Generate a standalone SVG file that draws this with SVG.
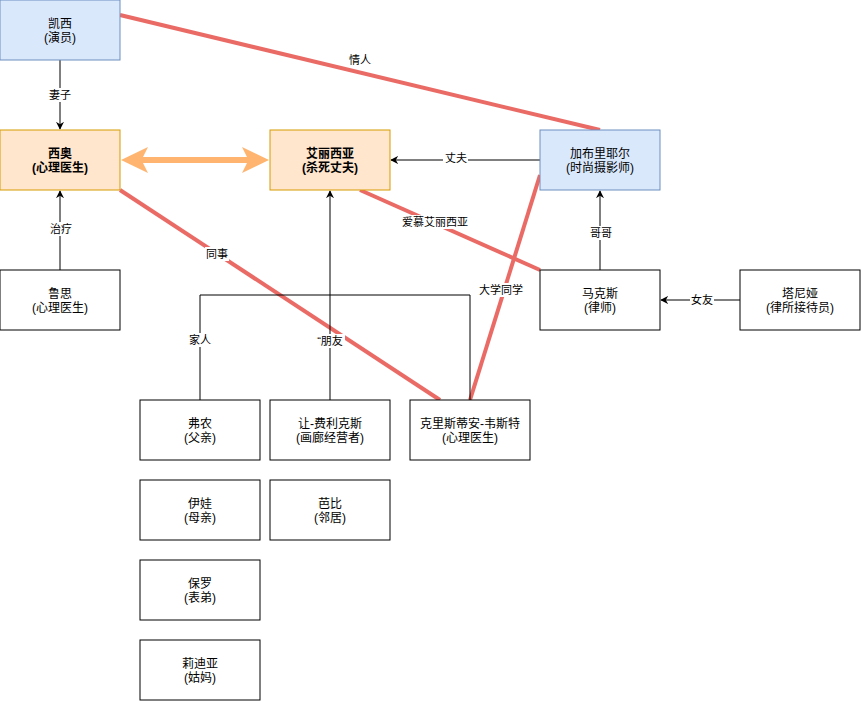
<svg xmlns="http://www.w3.org/2000/svg" width="861" height="701" viewBox="0 0 861 701">
<style>
.n rect{fill:#ffffff;stroke:#000000;stroke-width:1}
.b rect{fill:#dae8fc;stroke:#6c8ebf}
.o rect{fill:#ffe6cc;stroke:#d79b00}
text{font-family:"Liberation Sans","Noto Sans CJK SC",sans-serif;font-size:12px;fill:#000;text-anchor:middle}
.bold text{font-weight:bold}
.lbl{font-size:11px}
.lb{fill:#fff}
.e{fill:none;stroke:#000;stroke-width:1}
.r{fill:none;stroke:#EA6B66;stroke-width:4}
</style>
<defs>
<marker id="ar" viewBox="0 0 10 10" refX="9" refY="5" markerWidth="8" markerHeight="8" markerUnits="userSpaceOnUse" orient="auto">
<path d="M0,0 L10,5 L0,10 L3,5 Z" fill="#000"/>
</marker>
</defs>
<rect width="861" height="701" fill="#fff"/>
<g id="connectors">
<path class="r" d="M120,15 L600,130"/>
<path class="r" d="M120,190 L440,400"/>
<path class="r" d="M360,190 L540,270"/>
<path class="r" d="M540,175 L470,400"/>
<path class="e" d="M60,60 L60,129" marker-end="url(#ar)"/>
<path class="e" d="M60,270 L60,191" marker-end="url(#ar)"/>
<path class="e" d="M540,160 L391,160" marker-end="url(#ar)"/>
<path class="e" d="M600,270 L600,191" marker-end="url(#ar)"/>
<path class="e" d="M740,300 L661,300" marker-end="url(#ar)"/>
<path class="e" d="M330,400 L330,191" marker-end="url(#ar)"/>
<path class="e" d="M200,400 L200,295 L470,295 L470,400"/>
<path d="M121,160 L148,147 L143,157 L247,157 L242,147 L269,160 L242,173 L247,163 L143,163 L148,173 Z" fill="#FFB570"/>
<g class="labels">
<rect class="lb" x="49" y="88" width="22" height="14"/><text class="lbl" x="60" y="99">妻子</text>
<rect class="lb" x="348" y="53" width="24" height="14"/><text class="lbl" x="360" y="64">情人</text>
<rect class="lb" x="443" y="151" width="25" height="14"/><text class="lbl" x="456" y="162">丈夫</text>
<rect class="lb" x="49" y="222" width="24" height="14"/><text class="lbl" x="61" y="233">治疗</text>
<rect class="lb" x="205" y="247" width="24" height="14"/><text class="lbl" x="217" y="258">同事</text>
<rect class="lb" x="402" y="215" width="66" height="14"/><text class="lbl" x="435" y="226">爱慕艾丽西亚</text>
<rect class="lb" x="478" y="283" width="46" height="14"/><text class="lbl" x="501" y="294">大学同学</text>
<rect class="lb" x="589" y="226" width="24" height="14"/><text class="lbl" x="601" y="237">哥哥</text>
<rect class="lb" x="690" y="293" width="24" height="14"/><text class="lbl" x="702" y="304">女友</text>
<rect class="lb" x="188" y="333" width="24" height="14"/><text class="lbl" x="200" y="344">家人</text>
<rect class="lb" x="315" y="334" width="30" height="14"/><text class="lbl" x="330" y="345">“朋友</text>
</g>
</g>
<g id="kaixi" class="b"><rect x="0" y="0" width="120" height="60"/><text x="60" y="28">凯西</text><text x="60" y="42">(演员)</text></g>
<g id="xiao" class="o bold"><rect x="0" y="130" width="120" height="60"/><text x="60" y="158">西奥</text><text x="60" y="172">(心理医生)</text></g>
<g id="alicia" class="o bold"><rect x="270" y="130" width="120" height="60"/><text x="330" y="158">艾丽西亚</text><text x="330" y="172">(杀死丈夫)</text></g>
<g id="gabriel" class="b"><rect x="540" y="130" width="120" height="60"/><text x="600" y="158">加布里耶尔</text><text x="600" y="172">(时尚摄影师)</text></g>
<g id="ruth" class="n"><rect x="0" y="270" width="120" height="60"/><text x="60" y="298">鲁思</text><text x="60" y="312">(心理医生)</text></g>
<g id="max" class="n"><rect x="540" y="270" width="120" height="60"/><text x="600" y="298">马克斯</text><text x="600" y="312">(律师)</text></g>
<g id="tanya" class="n"><rect x="740" y="270" width="120" height="60"/><text x="800" y="298">塔尼娅</text><text x="800" y="312">(律所接待员)</text></g>
<g id="vernon" class="n"><rect x="140" y="400" width="120" height="60"/><text x="200" y="428">弗农</text><text x="200" y="442">(父亲)</text></g>
<g id="jeanfelix" class="n"><rect x="270" y="400" width="120" height="60"/><text x="330" y="428">让-费利克斯</text><text x="330" y="442">(画廊经营者)</text></g>
<g id="christian" class="n"><rect x="410" y="400" width="120" height="60"/><text x="470" y="428">克里斯蒂安-韦斯特</text><text x="470" y="442">(心理医生)</text></g>
<g id="eva" class="n"><rect x="140" y="480" width="120" height="60"/><text x="200" y="508">伊娃</text><text x="200" y="522">(母亲)</text></g>
<g id="barbie" class="n"><rect x="270" y="480" width="120" height="60"/><text x="330" y="508">芭比</text><text x="330" y="522">(邻居)</text></g>
<g id="paul" class="n"><rect x="140" y="560" width="120" height="60"/><text x="200" y="588">保罗</text><text x="200" y="602">(表弟)</text></g>
<g id="lydia" class="n"><rect x="140" y="640" width="120" height="60"/><text x="200" y="668">莉迪亚</text><text x="200" y="682">(姑妈)</text></g>
</svg>
